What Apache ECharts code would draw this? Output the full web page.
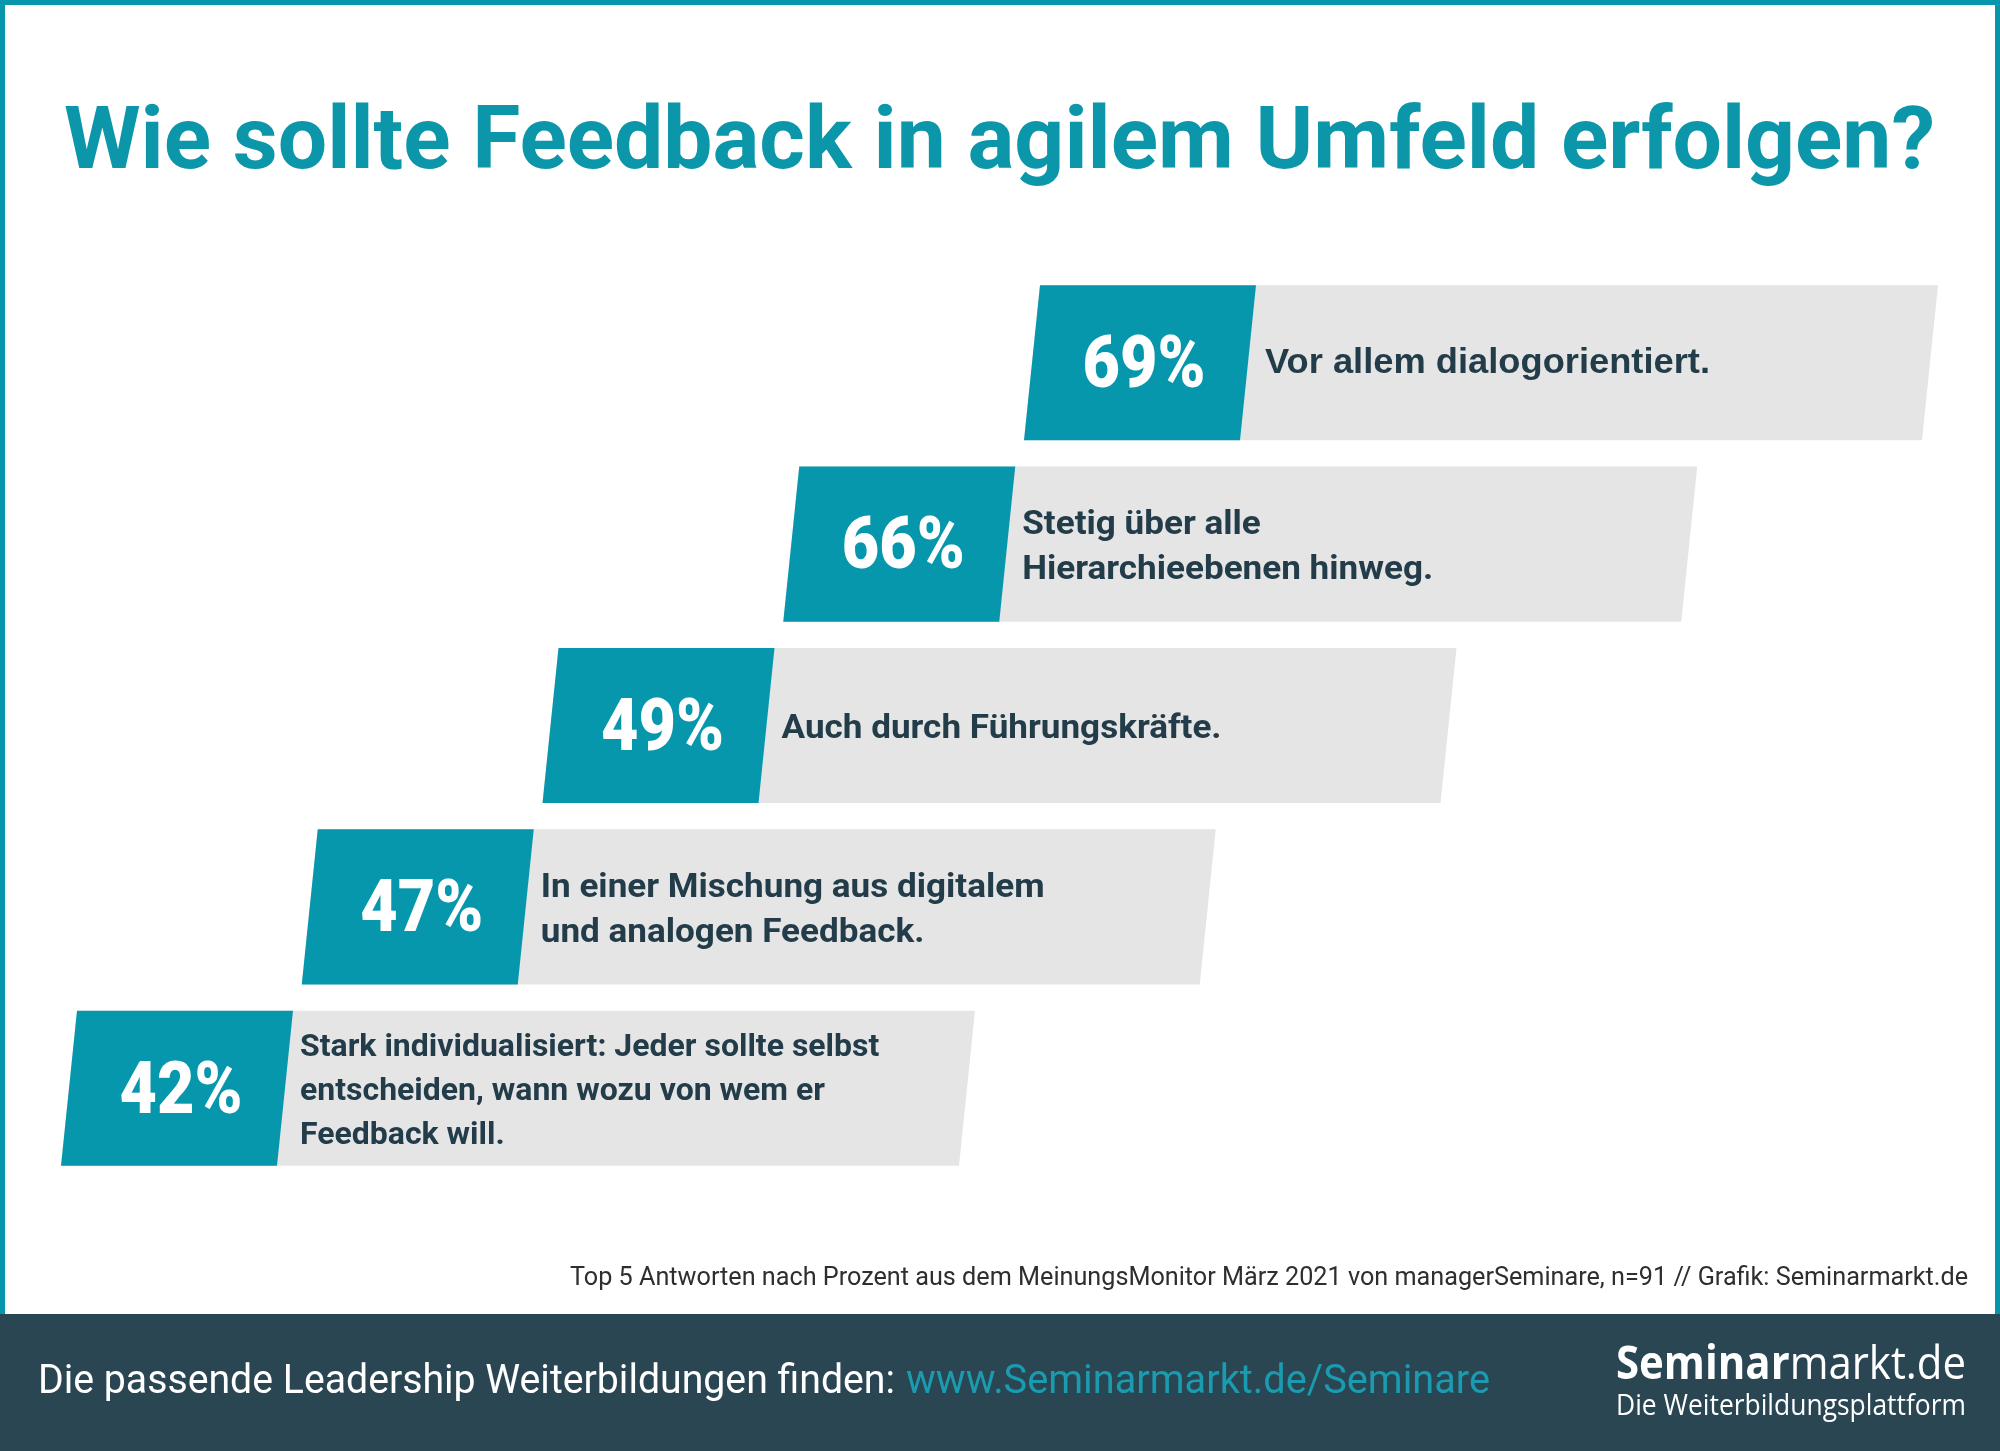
<!DOCTYPE html>
<html><head><meta charset="utf-8">
<script src="https://cdn.jsdelivr.net/npm/echarts@6/dist/echarts.min.js"></script>
<style>html,body{margin:0;padding:0;background:#fff}#c{width:2000px;height:1451px}</style>
</head><body><div id="c"></div>
<script>
// ---- data ----
const title = 'Wie sollte Feedback in agilem Umfeld erfolgen?';
const categories = [
  'Vor allem dialogorientiert.',
  'Stetig über alle\nHierarchieebenen hinweg.',
  'Auch durch Führungskräfte.',
  'In einer Mischung aus digitalem\nund analogen Feedback.',
  'Stark individualisiert: Jeder sollte selbst\nentscheiden, wann wozu von wem er\nFeedback will.'
];
const values = [69, 66, 49, 47, 42];
const sourceNote = 'Top 5 Antworten nach Prozent aus dem MeinungsMonitor März 2021 von managerSeminare, n=91 // Grafik: Seminarmarkt.de';
const footerText = 'Die passende Leadership Weiterbildungen finden:';
const footerLink = 'www.Seminarmarkt.de/Seminare';
const logoBold = 'Seminar';
const logoRegular = 'markt.de';
const logoTagline = 'Die Weiterbildungsplattform';

// ---- style ----
const TEAL = '#0797ad';
const TITLE_COLOR = '#0b96aa';
const GRAY = '#e5e5e5';
const DARK = '#233c4a';
const BAND = '#2a4653';
const LINK = '#1a9bb0';

const N = values.length;
const BAR_X0 = 77, BAR_STEP = 240.75, BAR_LEN = 898, TEAL_W = 216, SLANT = 16, BAR_FILL = 0.855;

const mctx = document.createElement('canvas').getContext('2d');
function textWidth(t, font) { mctx.font = font; return Math.max(...t.split('\n').map(l => mctx.measureText(l).width)); }
function fit(t, font, w) { return w / textWidth(t, font); }

const TITLE_FONT = '700 88px Roboto';
const PCT_FONT = '900 73px Roboto';
const LABEL_FONT = '700 34px Roboto';
const LABEL_FONT_S = '700 31px Roboto';
const LABEL1_FONT = '700 35px "Liberation Sans"';
const SRC_FONT = '400 26px Roboto';
const FOOT_FONT = '400 41px Roboto';
const LOGO_B = '700 46px "Open Sans"', LOGO_R = '400 46px "Open Sans"';
const TAG_FONT = '400 29px "Open Sans"';

const pctScale = fit(values[0] + '%', PCT_FONT, 123);
const labelScale = fit(categories[2], LABEL_FONT, 440);
const label1Scale = fit(categories[0], LABEL1_FONT, 445);
const footScale = fit(footerText, FOOT_FONT, 857);
const logoScale = 350 / (textWidth(logoBold, LOGO_B) + textWidth(logoRegular, LOGO_R));

function txt(x, y, text, font, fill, align, scaleX) {
  return {
    type: 'text', x: x, y: y, scaleX: scaleX || 1,
    style: { text: text, font: font, fill: fill, align: align, textAlign: align, verticalAlign: 'middle', textVerticalAlign: 'middle' }
  };
}

const chart = echarts.init(document.getElementById('c'), null, { renderer: 'canvas' });
chart.setOption({
  backgroundColor: '#ffffff',
  animation: false,
  grid: { left: 0, right: 0, top: 272, height: 907 },
  xAxis: { type: 'value', min: 0, max: 2000, show: false },
  yAxis: { type: 'category', data: categories, inverse: true, show: false },
  series: [{
    type: 'custom',
    data: values.map((v, i) => [v, i]),
    encode: { x: 0, y: 1 },
    renderItem: function (params, api) {
      const i = api.value(1);
      const c = api.coord([0, i]);
      const h = api.size([0, 1])[1] * BAR_FILL;
      const yT = c[1] - h / 2, yB = c[1] + h / 2;
      const xL = api.coord([BAR_X0 + (N - 1 - i) * BAR_STEP, i])[0];
      const lines = categories[i].split('\n').length;
      const isFirst = i === 0;
      const font = isFirst ? LABEL1_FONT : (lines > 2 ? LABEL_FONT_S : LABEL_FONT);
      const sc = isFirst ? label1Scale : labelScale;
      const pct = txt(xL - SLANT / 2 + TEAL_W / 2 + 4, c[1] + 6, api.value(0) + '%', PCT_FONT, '#ffffff', 'center', pctScale);
      const lab = txt(xL + TEAL_W + (isFirst ? 9 : 7), c[1] + (isFirst ? 1 : 4), categories[i], font, DARK, 'left', sc);
      lab.style.lineHeight = lines > 2 ? 44 : 45;
      return {
        type: 'group',
        children: [
          { type: 'polygon', shape: { points: [[xL, yT], [xL + BAR_LEN, yT], [xL + BAR_LEN - SLANT, yB], [xL - SLANT, yB]] }, style: { fill: GRAY } },
          { type: 'polygon', shape: { points: [[xL, yT], [xL + TEAL_W, yT], [xL + TEAL_W - SLANT, yB], [xL - SLANT, yB]] }, style: { fill: TEAL } },
          pct, lab
        ]
      };
    }
  }],
  graphic: { elements: [
    { type: 'rect', shape: { x: 2.5, y: 2.5, width: 1995, height: 1330 }, style: { fill: null, stroke: TEAL, lineWidth: 5 } },
    { type: 'rect', shape: { x: 0, y: 1314, width: 2000, height: 137 }, style: { fill: BAND } },
    txt(64, 146, title, TITLE_FONT, TITLE_COLOR, 'left', fit(title, TITLE_FONT, 1871)),
    txt(1968, 1278, sourceNote, SRC_FONT, '#2e2e2e', 'right', fit(sourceNote, SRC_FONT, 1398)),
    txt(38, 1383, footerText, FOOT_FONT, '#ffffff', 'left', footScale),
    txt(906, 1383, footerLink, FOOT_FONT, LINK, 'left', fit(footerLink, FOOT_FONT, 584)),
    { type: 'text', x: 1966, y: 1366, scaleX: logoScale,
      style: { text: '{b|' + logoBold + '}{r|' + logoRegular + '}', align: 'right', textAlign: 'right', verticalAlign: 'middle', textVerticalAlign: 'middle',
        rich: { b: { font: LOGO_B, fill: '#ffffff' }, r: { font: LOGO_R, fill: '#ffffff' } } } },
    txt(1966, 1407, logoTagline, TAG_FONT, '#ffffff', 'right', fit(logoTagline, TAG_FONT, 350))
  ] }
});
</script></body></html>
